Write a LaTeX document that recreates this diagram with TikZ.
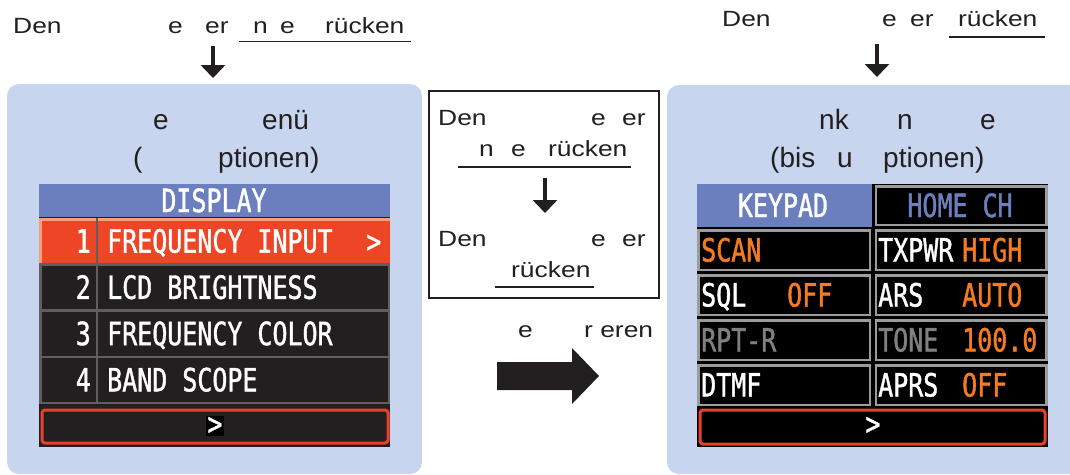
\documentclass[tikz,border=0pt]{standalone}
\usepackage{fontspec}
\setmainfont{Liberation Sans}
\newfontfamily\notefont[FakeStretch=1.2]{Liberation Sans}
\newfontfamily\lcdfont[FakeStretch=0.78,FakeBold=1.2]{DejaVu Sans Mono}
\usetikzlibrary{arrows.meta}
\definecolor{pPanel}{HTML}{C7D5EE}
\definecolor{pHead}{HTML}{6B7FBF}
\definecolor{pRow}{HTML}{EE4527}
\definecolor{pSalmon}{HTML}{F4A07C}
\definecolor{pDark}{HTML}{231F20}
\definecolor{pLine}{HTML}{5F5F5F}
\definecolor{pOrange}{HTML}{F47B20}
\definecolor{pGrey}{HTML}{808080}
\definecolor{pFrame}{HTML}{9C9C9C}
\definecolor{pRed}{HTML}{E8402A}
\newcommand{\seg}[2]{\makebox[#1pt][l]{#2}}

\begin{document}
\begin{tikzpicture}[x=1pt,y=-1pt]
    \tikzset{
        note/.style={anchor=base west, inner sep=0pt, text=pDark, font=\notefont\fontsize{22}{24}\selectfont},
        title/.style={anchor=base west, inner sep=0pt, text=pDark, font=\fontsize{28}{30}\selectfont},
        lcd/.style={anchor=base west, inner sep=0pt, text=white, font=\lcdfont\fontsize{32}{32}\selectfont},
        downarrow/.style={draw=pDark, line width=3.5pt, -{Triangle[width=24pt,length=13pt]}},
        cell/.style={draw=pFrame, line width=2.5pt, fill=black},
        underl/.style={draw=pDark, line width=1.5pt}
    }
    \useasboundingbox (0,0) rectangle (1070,474);
    % blue panels
    \fill[pPanel, rounded corners=12pt] (7,84) rectangle (422,474);
    \fill[pPanel, rounded corners=12pt] (667,85) rectangle (1090,474);
    % top notes
    \node[note] (noteL) at (13,33) {\seg{155}{Den}\seg{37}{e}\seg{48}{er}\seg{27}{n}\seg{45}{e}rücken};
    \draw[underl] (239,41.5) -- (411,41.5);
    \coordinate (aL1) at (213,46);
    \coordinate (aL2) at (213,78);
    \draw[downarrow] (aL1) -- (aL2);
    \node[note] (noteR) at (722,26) {\seg{160}{Den}\seg{28}{e}\seg{48}{er}rücken};
    \draw[underl] (949,37) -- (1045,37);
    \coordinate (aR1) at (877,44);
    \coordinate (aR2) at (877,77);
    \draw[downarrow] (aR1) -- (aR2);
    % panel titles
    \node[title] (titleL1) at (153,129) {\seg{109}{e}enü};
    \node[title] (titleL2) at (133,167) {\seg{85}{(}ptionen)};
    \node[title] (titleR1) at (819,129) {\seg{78}{nk}\seg{83}{n}e};
    \node[title] (titleR2) at (770,167) {\seg{67}{(bis}\seg{46}{u}ptionen)};
    % left display
    \fill[pDark] (39,184) rectangle (390,447);
    \fill[pHead] (39,184) rectangle (390,217);
    \node[lcd, anchor=base] (dispHead) at (214,212) {DISPLAY};
    \fill[pRow] (39,218) rectangle (390,264.25);
    \draw[pSalmon, line width=3pt] (40.5,264.25) -- (40.5,219.5) -- (390,219.5);
    \foreach \i/\t in {2/LCD BRIGHTNESS, 3/FREQUENCY COLOR, 4/BAND SCOPE}{
        \pgfmathsetmacro{\top}{218+(\i-1)*46.25}
        \draw[pLine, line width=2.5pt, fill=pDark] (40.25,\top) rectangle (388.75,\top+46.25);
        \node[lcd] (item\i) at (107,\top+34.6) {\t};
        \node[lcd, anchor=base east] (num\i) at (91,\top+34.6) {\i};
    }
    \draw[pLine, line width=2pt] (97,218) -- (97,403);
    \node[lcd, anchor=base east] (num1) at (91,252.6) {1};
    \node[lcd] (item1) at (107,252.6) {FREQUENCY INPUT};
    \node[lcd] (more1) at (366,252.6) {>};
    \draw[pRed, line width=3pt, rounded corners=3pt] (42,410) rectangle (388,443);
    \node[lcd, anchor=center, fill=black, inner sep=1pt] (nextL) at (215,426) {>};
    % middle box
    \node[draw=pDark, line width=1.5pt, minimum width=230pt, minimum height=207pt] (midBox) at (544,194.5) {};
    \node[note] (mid1) at (438,125) {\seg{153}{Den}\seg{31}{e}er};
    \node[note] (mid2) at (479,156) {\seg{32}{n}\seg{37}{e}rücken};
    \draw[underl] (458,167) -- (631,167);
    \coordinate (aM1) at (545,178);
    \coordinate (aM2) at (545,213);
    \draw[downarrow] (aM1) -- (aM2);
    \node[note] (mid3) at (438,246) {\seg{153}{Den}\seg{31}{e}er};
    \node[note] (mid4) at (511,277) {rücken};
    \draw[underl] (495,287) -- (594,287);
    \node[note] (turn) at (518,337) {\seg{66}{e}r eren};
    \fill[pDark] (497,362) -- (572,362) -- (572,348) -- (599,376) -- (572,404) -- (572,390) -- (497,390) -- cycle;
    % right display
    \fill[black] (697,184) rectangle (1048,447);
    \fill[pHead] (697,184) rectangle (872,227);
    \node[lcd, anchor=base] (keypad) at (783,217) {KEYPAD};
    \draw[cell] (876,186.5) rectangle (1046.5,225);
    \node[lcd, anchor=base, text=pHead] (homeCh) at (960,217) {HOME CH};
    \foreach \top/\la/\ca/\va/\lb/\cb/\vb in {229/SCAN/pOrange//TXPWR/white/HIGH, 274/SQL/white/OFF/ARS/white/AUTO, 319/RPT-R/pGrey//TONE/pGrey/100.0, 364/DTMF/white//APRS/white/OFF}{
        \draw[cell] (698.5,\top+1.25) rectangle (870,\top+40.75);
        \draw[cell] (876,\top+1.25) rectangle (1046.5,\top+40.75);
        \node[lcd, text=\ca] (la\top) at (701,\top+32.5) {\la};
        \node[lcd, text=pOrange] (va\top) at (787,\top+32.5) {\va};
        \node[lcd, text=\cb] (lb\top) at (878,\top+32.5) {\lb};
        \node[lcd, text=pOrange] (vb\top) at (962,\top+32.5) {\vb};
    }
    \draw[pRed, line width=3pt, rounded corners=3pt] (700,410) rectangle (1045,444);
    \node[lcd, anchor=center, inner sep=1pt] (nextR) at (873,426) {>};
\end{tikzpicture}
\end{document}
